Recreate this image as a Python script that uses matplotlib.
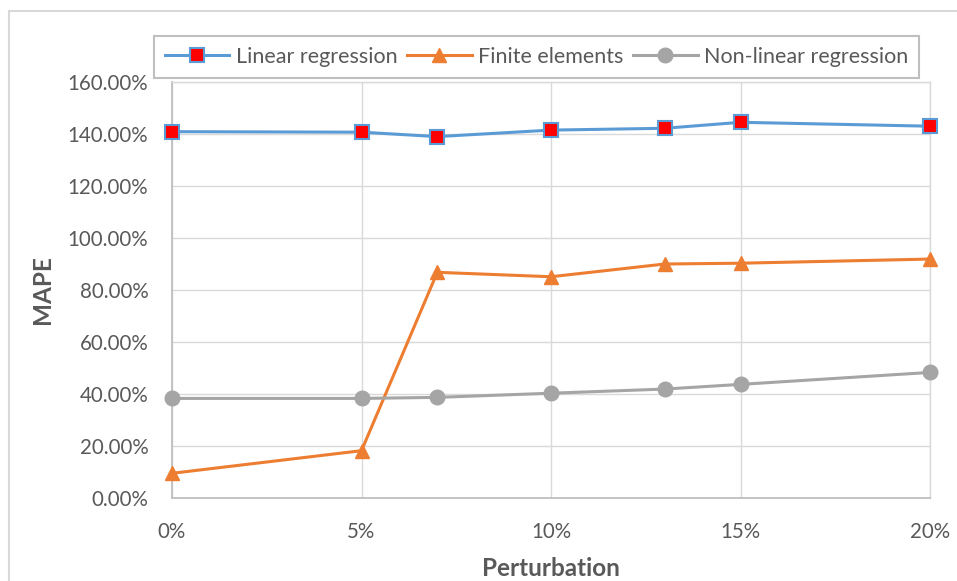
import matplotlib.pyplot as plt
from matplotlib.ticker import PercentFormatter, MultipleLocator
from matplotlib.patches import Rectangle

# perturbation levels (%) and MAPE values (%)
perturbation = [0, 5, 7, 10, 13, 15, 20]
linear_regression = [140.9, 140.7, 139.0, 141.5, 142.2, 144.5, 143.0]
finite_elements = [9.5, 18.2, 86.8, 85.1, 90.0, 90.3, 91.9]
nonlinear_regression = [38.3, 38.3, 38.7, 40.3, 41.9, 43.7, 48.3]

labels = ['Linear regression', 'Finite elements', 'Non-linear regression']

plt.rcParams['font.family'] = ['Lato', 'DejaVu Sans']
txt = '#595959'
grid = '#d9d9d9'

fig = plt.figure(figsize=(9.57, 5.81), dpi=100)
ax = fig.add_axes([172 / 957, 1 - 498 / 581, (930 - 172) / 957, (498 - 82) / 581])

lw = 2.2
ax.plot(perturbation, linear_regression, color='#5b9bd5', lw=lw, marker='s',
        ms=9.5, mfc='#ff0000', mec='#5b9bd5', mew=1.5, label=labels[0],
        clip_on=False, zorder=3)
ax.plot(perturbation, finite_elements, color='#ed7d31', lw=lw, marker='^',
        ms=10.5, mfc='#ed7d31', mec='#ed7d31', label=labels[1],
        clip_on=False, zorder=3)
ax.plot(perturbation, nonlinear_regression, color='#a5a5a5', lw=lw, marker='o',
        ms=10.5, mfc='#a5a5a5', mec='#a5a5a5', label=labels[2],
        clip_on=False, zorder=3)

ax.set_xlim(0, 20)
ax.set_ylim(0, 160)
ax.xaxis.set_major_locator(MultipleLocator(5))
ax.yaxis.set_major_locator(MultipleLocator(20))
ax.xaxis.set_major_formatter(PercentFormatter(xmax=100, decimals=0))
ax.yaxis.set_major_formatter(PercentFormatter(xmax=100, decimals=2))

ax.grid(True, color=grid, lw=1.0)
ax.set_axisbelow(True)
for s in ['top', 'right']:
    ax.spines[s].set_color(grid)
    ax.spines[s].set_linewidth(1.0)
for s in ['left', 'bottom']:
    ax.spines[s].set_color('#bfbfbf')
    ax.spines[s].set_linewidth(1.3)

ax.tick_params(axis='both', length=0, labelsize=14.8, labelcolor=txt)
ax.tick_params(axis='y', pad=17)
ax.tick_params(axis='x', pad=17)

ax.set_ylabel('MAPE', fontsize=17.5, fontweight='bold', color=txt, labelpad=10)
ax.set_xlabel('Perturbation', fontsize=17.5, fontweight='bold', color=txt, labelpad=11)

leg = fig.legend(loc='center', bbox_to_anchor=(536.5 / 957, 1 - 57 / 581), ncol=3,
                 fontsize=15.5, frameon=True, fancybox=False, handlelength=3.0,
                 handletextpad=0.3, columnspacing=0.45, borderpad=0.5,
                 borderaxespad=0)
leg.get_frame().set_edgecolor('#b0b0b0')
leg.get_frame().set_linewidth(1.5)
for t in leg.get_texts():
    t.set_color(txt)

# light chart border on the left and top
fig.add_artist(Rectangle((9 / 957, -0.1), 1.2, 1 - 11 / 581 + 0.1,
                         transform=fig.transFigure, fill=False,
                         edgecolor=grid, lw=1.5))

plt.savefig('out.png', dpi=100)
